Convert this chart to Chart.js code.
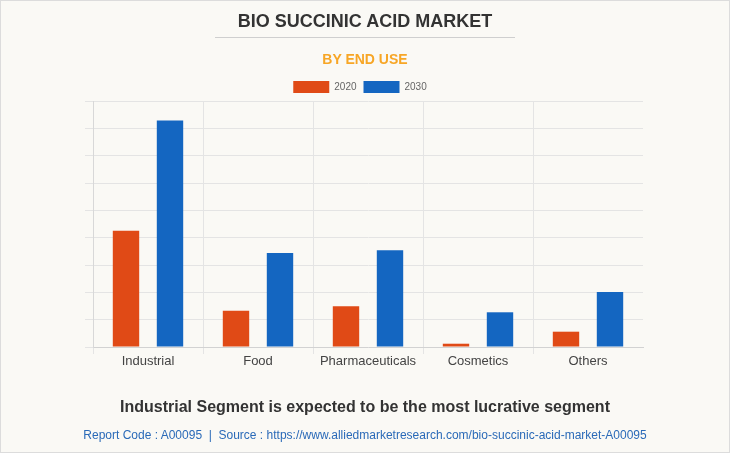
<!DOCTYPE html>
<html>
<head>
<meta charset="utf-8">
<script src="https://cdn.jsdelivr.net/npm/chart.js@4/dist/chart.umd.min.js"></script>
<style>
  html, body { margin: 0; padding: 0; }
  body { width: 730px; height: 453px; background: #faf9f5; position: relative; overflow: hidden; font-family: "Liberation Sans", Arial, sans-serif; }
  .frame { position: absolute; left: 0; top: 0; width: 728px; height: 451px; border: 1px solid #dcdcdc; pointer-events: none; }
  .title { position: absolute; left: 0; width: 730px; top: 10px; text-align: center; font-weight: bold; font-size: 18px; color: #333; line-height: 22px; }
  .rule { position: absolute; left: 215px; width: 300px; top: 37px; height: 1px; background: #cfcfcf; }
  .subtitle { position: absolute; left: 0; width: 730px; top: 50px; text-align: center; font-weight: bold; font-size: 14px; color: #f7a626; line-height: 18px; }
  .foot { position: absolute; left: 0; width: 730px; top: 397px; text-align: center; font-weight: bold; font-size: 16px; color: #333; line-height: 20px; }
  .src { position: absolute; left: 0; width: 730px; top: 427px; text-align: center; font-size: 12px; color: #2a6ab8; line-height: 16px; }
  .wrap { position: absolute; left: 0; top: 0; width: 730px; height: 453px; }
</style>
</head>
<body>
<div class="wrap"><canvas id="c"></canvas></div>
<div class="title">BIO SUCCINIC ACID MARKET</div>
<div class="rule"></div>
<div class="subtitle">BY END USE</div>
<div class="foot">Industrial Segment is expected to be the most lucrative segment</div>
<div class="src">Report Code : A00095&nbsp; |&nbsp; Source : https://www.alliedmarketresearch.com/bio-succinic-acid-market-A00095</div>
<div class="frame"></div>
<script>
const categories = ["Industrial", "Food", "Pharmaceuticals", "Cosmetics", "Others"];
const seriesNames = ["2020", "2030"];
const values2020 = [42.5, 13.3, 14.9, 1.2, 5.6];
const values2030 = [82.9, 34.4, 35.4, 12.7, 20.1];
const yTicks = [0, 10, 20, 30, 40, 50, 60, 70, 80, 90];

const FONT = "'Liberation Sans', Arial, sans-serif";

const legendTrim = {
  id: 'legendTrim',
  beforeLayout(chart) {
    const lg = chart.legend;
    if (lg && !lg._trimmed) {
      const origFit = lg.fit.bind(lg);
      lg.fit = function () { origFit(); this.height = Math.max(0, this.height - 2); };
      lg._trimmed = true;
    }
  }
};

new Chart(document.getElementById('c'), {
  type: 'bar',
  data: {
    labels: categories,
    datasets: [
      { label: seriesNames[0], data: values2020, backgroundColor: '#e04a16', borderWidth: 0 },
      { label: seriesNames[1], data: values2030, backgroundColor: '#1466c1', borderWidth: 0 }
    ]
  },
  plugins: [legendTrim],
  options: {
    responsive: true,
    maintainAspectRatio: false,
    animation: false,
    layout: { padding: { top: 74, right: 87, bottom: 0, left: 77 } },
    datasets: { bar: { categoryPercentage: 0.8, barPercentage: 0.6 } },
    plugins: {
      legend: {
        position: 'top',
        labels: {
          boxWidth: 36, boxHeight: 12, padding: 7,
          color: '#666', font: { family: FONT, size: 10 }
        }
      },
      tooltip: { enabled: false }
    },
    scales: {
      x: {
        afterFit: s => { s.height = 106; },
        grid: {
          offset: true,
          color: ctx => (ctx.type === 'tick' ? '#e4e4e4' : 'rgba(0,0,0,0)'),
          tickLength: 7,
          drawTicks: true
        },
        border: { display: true, color: '#d2d2d2' },
        ticks: { color: '#444', font: { family: FONT, size: 13 }, padding: 0 }
      },
      y: {
        min: yTicks[0],
        max: yTicks[yTicks.length - 1],
        afterFit: s => { s.width = 16; },
        afterBuildTicks: s => { s.ticks = yTicks.map(v => ({ value: v })); },
        grid: { color: '#e4e4e4', tickLength: 8 },
        border: { display: true, color: '#d8d8d8' },
        ticks: { display: false }
      }
    }
  }
});
</script>
</body>
</html>
